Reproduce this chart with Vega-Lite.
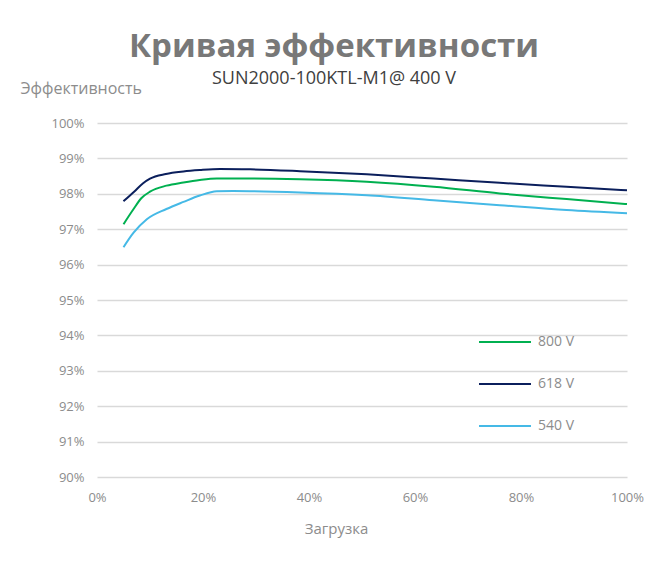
{
  "$schema": "https://vega.github.io/schema/vega-lite/v6.json",
  "width": 530,
  "height": 354,
  "autosize": {"type": "none"},
  "padding": {"left": 97, "top": 123, "right": 40, "bottom": 102},
  "background": "white",
  "title": {
    "text": "Кривая эффективности",
    "subtitle": "SUN2000-100KTL-M1@ 400 V",
    "anchor": "middle",
    "frame": "group",
    "dx": -28,
    "offset": -8,
    "font": "Open Sans",
    "fontSize": 33,
    "fontWeight": "bold",
    "color": "#787878",
    "subtitleFont": "Open Sans",
    "subtitleFontSize": 18,
    "subtitleColor": "#404040",
    "subtitlePadding": 6
  },
  "config": {
    "font": "Open Sans",
    "view": {"stroke": null},
    "axis": {
      "labelFont": "Open Sans",
      "titleFont": "Open Sans",
      "labelColor": "#8c8c8c",
      "titleColor": "#8c8c8c",
      "labelFontSize": 13,
      "titleFontSize": 15,
      "titleFontWeight": "normal",
      "domain": false,
      "ticks": false
    }
  },
  "data": {
    "values": [
      {"series": "618 V", "load": 0.05, "eff": 0.9779},
      {"series": "618 V", "load": 0.07, "eff": 0.9806},
      {"series": "618 V", "load": 0.087, "eff": 0.9830},
      {"series": "618 V", "load": 0.10, "eff": 0.9843},
      {"series": "618 V", "load": 0.13, "eff": 0.9856},
      {"series": "618 V", "load": 0.163, "eff": 0.9863},
      {"series": "618 V", "load": 0.194, "eff": 0.9867},
      {"series": "618 V", "load": 0.232, "eff": 0.9870},
      {"series": "618 V", "load": 0.289, "eff": 0.9869},
      {"series": "618 V", "load": 0.383, "eff": 0.9864},
      {"series": "618 V", "load": 0.509, "eff": 0.9855},
      {"series": "618 V", "load": 0.635, "eff": 0.9843},
      {"series": "618 V", "load": 0.76, "eff": 0.9831},
      {"series": "618 V", "load": 0.886, "eff": 0.9820},
      {"series": "618 V", "load": 1.0, "eff": 0.9810},
      {"series": "800 V", "load": 0.05, "eff": 0.9714},
      {"series": "800 V", "load": 0.069, "eff": 0.9757},
      {"series": "800 V", "load": 0.084, "eff": 0.9788},
      {"series": "800 V", "load": 0.10, "eff": 0.9806},
      {"series": "800 V", "load": 0.131, "eff": 0.9823},
      {"series": "800 V", "load": 0.163, "eff": 0.9832},
      {"series": "800 V", "load": 0.194, "eff": 0.9839},
      {"series": "800 V", "load": 0.226, "eff": 0.9843},
      {"series": "800 V", "load": 0.289, "eff": 0.9843},
      {"series": "800 V", "load": 0.383, "eff": 0.9841},
      {"series": "800 V", "load": 0.509, "eff": 0.9834},
      {"series": "800 V", "load": 0.635, "eff": 0.9820},
      {"series": "800 V", "load": 0.76, "eff": 0.9801},
      {"series": "800 V", "load": 0.886, "eff": 0.9785},
      {"series": "800 V", "load": 1.0, "eff": 0.9771},
      {"series": "540 V", "load": 0.05, "eff": 0.9649},
      {"series": "540 V", "load": 0.069, "eff": 0.9690},
      {"series": "540 V", "load": 0.094, "eff": 0.9728},
      {"series": "540 V", "load": 0.131, "eff": 0.9757},
      {"series": "540 V", "load": 0.163, "eff": 0.9777},
      {"series": "540 V", "load": 0.194, "eff": 0.9795},
      {"series": "540 V", "load": 0.226, "eff": 0.9807},
      {"series": "540 V", "load": 0.257, "eff": 0.9808},
      {"series": "540 V", "load": 0.383, "eff": 0.9804},
      {"series": "540 V", "load": 0.509, "eff": 0.9796},
      {"series": "540 V", "load": 0.635, "eff": 0.9782},
      {"series": "540 V", "load": 0.76, "eff": 0.9768},
      {"series": "540 V", "load": 0.886, "eff": 0.9754},
      {"series": "540 V", "load": 1.0, "eff": 0.9745}
    ]
  },
  "mark": {"type": "line", "interpolate": "monotone", "strokeWidth": 2},
  "encoding": {
    "x": {
      "field": "load",
      "type": "quantitative",
      "scale": {"domain": [0, 1], "nice": false},
      "axis": {
        "title": "Загрузка",
        "format": ".0%",
        "values": [0, 0.2, 0.4, 0.6, 0.8, 1],
        "grid": false,
        "labelFlush": false,
        "labelPadding": 14,
        "titleX": 239,
        "titleY": 44,
        "titleBaseline": "top"
      }
    },
    "y": {
      "field": "eff",
      "type": "quantitative",
      "scale": {"domain": [0.9, 1], "nice": false, "zero": false},
      "axis": {
        "title": "Эффективность",
        "format": ".0%",
        "values": [0.9, 0.91, 0.92, 0.93, 0.94, 0.95, 0.96, 0.97, 0.98, 0.99, 1.0],
        "grid": true,
        "gridColor": "#d9d9d9",
        "gridWidth": 1.3,
        "labelPadding": 13,
        "titleAngle": 0,
        "titleAlign": "left",
        "titleBaseline": "alphabetic",
        "titleFontSize": 16,
        "titleX": -77,
        "titleY": -30
      }
    },
    "color": {
      "field": "series",
      "type": "nominal",
      "scale": {"domain": ["800 V", "618 V", "540 V"], "range": ["#00b050", "#0b1f5c", "#45b9e6"]},
      "legend": {
        "title": null,
        "orient": "none",
        "legendX": 381,
        "legendY": 192,
        "symbolType": "stroke",
        "symbolSize": 2700,
        "symbolStrokeWidth": 2,
        "labelFont": "Open Sans",
        "labelFontSize": 14,
        "labelColor": "#8c8c8c",
        "labelOffset": 6,
        "rowPadding": 8
      }
    }
  }
}
